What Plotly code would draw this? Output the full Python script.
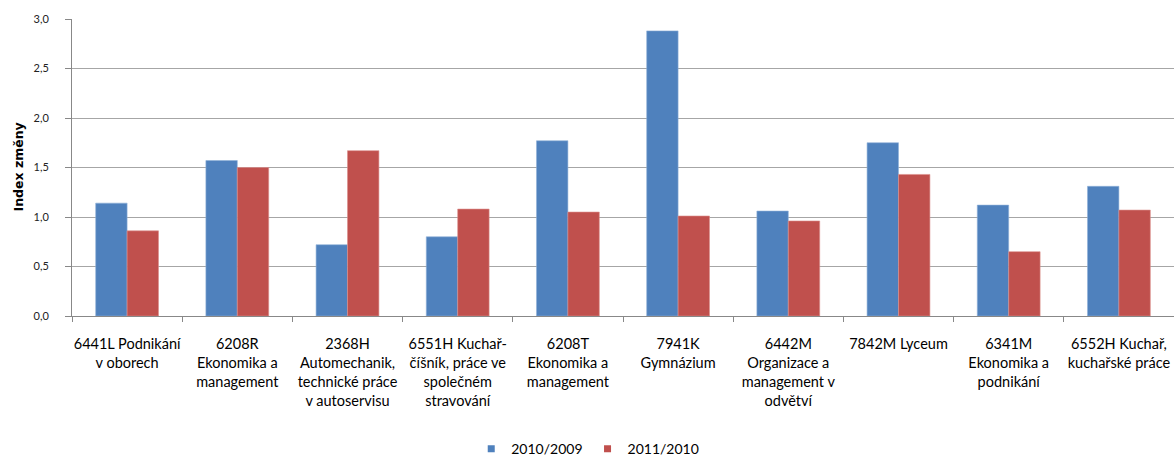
import plotly.graph_objects as go

categories = [
    "6441L Podnikání<br>v oborech",
    "6208R<br>Ekonomika a<br>management",
    "2368H<br>Automechanik,<br>technické práce<br>v autoservisu",
    "6551H Kuchař-<br>číšník, práce ve<br>společném<br>stravování",
    "6208T<br>Ekonomika a<br>management",
    "7941K<br>Gymnázium",
    "6442M<br>Organizace a<br>management v<br>odvětví",
    "7842M Lyceum",
    "6341M<br>Ekonomika a<br>podnikání",
    "6552H Kuchař,<br>kuchařské práce",
]
series_names = ["2010/2009", "2011/2010"]
series_2010 = [1.14, 1.57, 0.72, 0.80, 1.77, 2.88, 1.06, 1.75, 1.12, 1.31]
series_2011 = [0.86, 1.50, 1.67, 1.08, 1.05, 1.01, 0.96, 1.43, 0.65, 1.07]
y_ticks = [0, 0.5, 1.0, 1.5, 2.0, 2.5, 3.0]

FONT = "Lato"
BLUE, RED = "#4F81BD", "#C0504D"

fig = go.Figure()
fig.add_trace(go.Bar(x=categories, y=series_2010, name=series_names[0], showlegend=False,
                     marker=dict(color=BLUE, line=dict(color="#8FB0D8", width=0.6))))
fig.add_trace(go.Bar(x=categories, y=series_2011, name=series_names[1], showlegend=False,
                     marker=dict(color=RED, line=dict(color="#DB8E8C", width=0.6))))
# legend entries with small square keys
for nm, col in zip(series_names, [BLUE, RED]):
    fig.add_trace(go.Scatter(x=[None], y=[None], mode="markers", name=nm,
                             marker=dict(symbol="square", size=7, color=col)))

fig.update_layout(
    width=1174, height=457,
    margin=dict(l=72, r=0, t=19, b=141, autoexpand=False),
    paper_bgcolor="white", plot_bgcolor="white",
    barmode="group", bargap=0.43, bargroupgap=0,
    separators=", ",
    font=dict(family=FONT, size=13, color="#000000"),
    showlegend=True,
    legend=dict(orientation="h", x=0.468, xanchor="center", y=-0.448, yanchor="middle",
                font=dict(family=FONT, size=14, color="#000000"), itemwidth=30,
                traceorder="normal"),
    xaxis=dict(
        automargin=False,
        showgrid=False, showline=True, linecolor="#888888", linewidth=1,
        ticks="outside", tickson="boundaries", ticklen=5, tickcolor="#888888",
        tickfont=dict(family=FONT, size=14.5, color="#000000"), tickangle=0,
        ticklabelstandoff=15,
    ),
    yaxis=dict(
        automargin=False,
        range=[0, 3], tickvals=y_ticks, tickformat=".1f",
        showgrid=True, gridcolor="#A6A6A6", gridwidth=1,
        showline=True, linecolor="#888888", linewidth=1,
        ticks="outside", ticklen=6, tickcolor="#888888",
        tickfont=dict(family=FONT, size=11, color="#222222"),
        ticklabelstandoff=14,
        zeroline=False,
    ),
    annotations=[dict(
        text="<b>Index změny</b>", xref="paper", yref="paper",
        x=-0.049, y=0.5, xanchor="center", yanchor="middle", textangle=-90,
        showarrow=False, font=dict(family="DejaVu Sans", size=12.5, color="#000000"),
    )],
)

fig.write_html("out.html", config={"displayModeBar": False},
               post_script="document.body.style.margin='0px';")
